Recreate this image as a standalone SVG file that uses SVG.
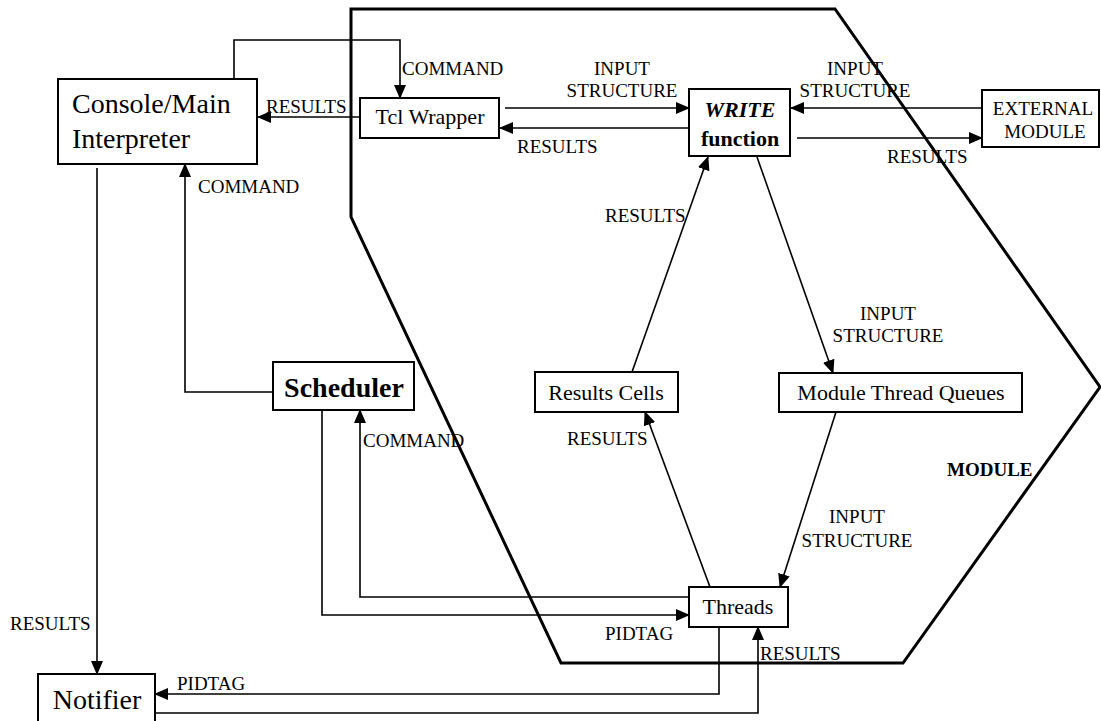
<svg xmlns="http://www.w3.org/2000/svg" width="1101" height="721" viewBox="0 0 1101 721">
  <defs>
    <marker id="arrow" markerUnits="userSpaceOnUse" markerWidth="14" markerHeight="12" refX="13" refY="6" orient="auto">
      <path d="M0,0 L14,6 L0,12 z" fill="#000"/>
    </marker>
    <style>
      text { font-family: 'Liberation Serif', 'DejaVu Serif', serif; fill: #000; }
      .box { fill: #fff; stroke: #000; stroke-width: 2; }
      .big { font-size: 28px; }
      .node { font-size: 22px; }
      .lbl { font-size: 19px; }
      .mid { text-anchor: middle; }
      .conn { fill: none; stroke: #000; stroke-width: 1.6; }
      .arr { marker-end: url(#arrow); }
      .module { fill: none; stroke: #000; stroke-width: 3; }
    </style>
  </defs>

  <rect width="1101" height="721" fill="#fff"/>

  <!-- module boundary -->
  <g id="module">
    <polygon class="module" points="351,9 835,9 1100,387 903,663 561,663 351,217"/>
    <text class="lbl" x="947" y="476" font-weight="bold" font-size="20">MODULE</text>
  </g>

  <!-- connectors -->
  <g id="connectors">
    <path class="conn arr" d="M234,79 V40 H400 V98"/>
    <text class="lbl" x="402" y="75">COMMAND</text>

    <path class="conn arr" d="M360,117 H258"/>
    <text class="lbl" x="266" y="113">RESULTS</text>

    <path class="conn arr" d="M505,108 H689"/>
    <text class="lbl mid" x="622" y="75">INPUT</text>
    <text class="lbl mid" x="622" y="97">STRUCTURE</text>

    <path class="conn arr" d="M689,128 H500"/>
    <text class="lbl" x="517" y="153">RESULTS</text>

    <path class="conn arr" d="M982,108 H791"/>
    <text class="lbl mid" x="855" y="75">INPUT</text>
    <text class="lbl mid" x="855" y="97">STRUCTURE</text>

    <path class="conn arr" d="M797,138 H982"/>
    <text class="lbl" x="887" y="163">RESULTS</text>

    <path class="conn arr" d="M632,372 L708,157"/>
    <text class="lbl" x="605" y="222">RESULTS</text>

    <path class="conn arr" d="M757,157 L833,373"/>
    <text class="lbl mid" x="888" y="320">INPUT</text>
    <text class="lbl mid" x="888" y="342">STRUCTURE</text>

    <path class="conn arr" d="M836,412 L780,587"/>
    <text class="lbl mid" x="857" y="523">INPUT</text>
    <text class="lbl mid" x="857" y="547">STRUCTURE</text>

    <path class="conn arr" d="M710,587 L645,412"/>
    <text class="lbl" x="567" y="445">RESULTS</text>

    <path class="conn arr" d="M689,597 H360 V410"/>
    <text class="lbl" x="363" y="447">COMMAND</text>

    <path class="conn arr" d="M322,410 V615 H689"/>
    <text class="lbl" x="605" y="640">PIDTAG</text>

    <path class="conn arr" d="M273,392 H185 V164"/>
    <text class="lbl" x="198" y="193">COMMAND</text>

    <path class="conn arr" d="M97,168 V674"/>
    <text class="lbl" x="10" y="630">RESULTS</text>

    <path class="conn arr" d="M719,627 V694 H155"/>
    <text class="lbl" x="177" y="690">PIDTAG</text>

    <path class="conn arr" d="M155,713 H758 V627"/>
    <text class="lbl" x="760" y="660">RESULTS</text>
  </g>

  <!-- nodes -->
  <g id="console">
    <rect class="box" x="58" y="79" width="199" height="85"/>
    <text class="big" x="72" y="113">Console/Main</text>
    <text class="big" x="72" y="148">Interpreter</text>
  </g>

  <g id="tcl-wrapper">
    <rect class="box" x="360" y="98" width="139" height="40"/>
    <text class="node mid" x="430" y="124">Tcl Wrapper</text>
  </g>

  <g id="write-function">
    <rect class="box" x="689" y="89" width="101" height="67"/>
    <text class="node mid" x="740" y="117" font-weight="bold" font-style="italic" font-size="21">WRITE</text>
    <text class="node mid" x="740" y="146" font-weight="bold" font-size="21">function</text>
  </g>

  <g id="external-module">
    <rect class="box" x="982" y="90" width="117" height="57"/>
    <text class="lbl mid" x="1043" y="115">EXTERNAL</text>
    <text class="lbl mid" x="1045" y="138">MODULE</text>
  </g>

  <g id="scheduler">
    <rect class="box" x="273" y="362" width="141" height="48"/>
    <text class="big mid" x="344" y="397" font-size="27" font-weight="bold">Scheduler</text>
  </g>

  <g id="results-cells">
    <rect class="box" x="535" y="372" width="143" height="40"/>
    <text class="node mid" x="606" y="400">Results Cells</text>
  </g>

  <g id="module-thread-queues">
    <rect class="box" x="779" y="373" width="243" height="39"/>
    <text class="node mid" x="901" y="400">Module Thread Queues</text>
  </g>

  <g id="threads">
    <rect class="box" x="689" y="587" width="99" height="40"/>
    <text class="node mid" x="738" y="614">Threads</text>
  </g>

  <g id="notifier">
    <rect class="box" x="38" y="674" width="117" height="52"/>
    <text class="big mid" x="97" y="709" font-size="29">Notifier</text>
  </g>
</svg>
